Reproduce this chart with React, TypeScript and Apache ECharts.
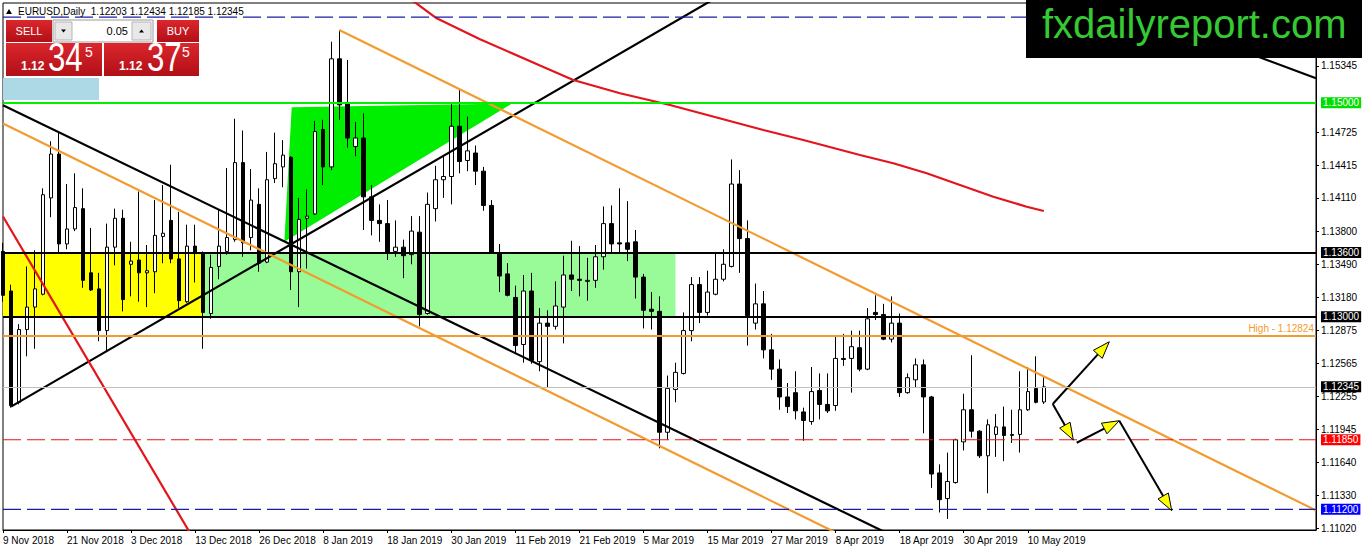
import React, { useEffect, useRef } from "react";
import * as echarts from "echarts";

// ---------- data ----------
const dates = [
  "9 Nov 2018","12 Nov 2018","13 Nov 2018","14 Nov 2018","15 Nov 2018","16 Nov 2018","19 Nov 2018","20 Nov 2018","21 Nov 2018","22 Nov 2018",
  "23 Nov 2018","26 Nov 2018","27 Nov 2018","28 Nov 2018","29 Nov 2018","30 Nov 2018","3 Dec 2018","4 Dec 2018","5 Dec 2018","6 Dec 2018",
  "7 Dec 2018","10 Dec 2018","11 Dec 2018","12 Dec 2018","13 Dec 2018","14 Dec 2018","17 Dec 2018","18 Dec 2018","19 Dec 2018","20 Dec 2018",
  "21 Dec 2018","24 Dec 2018","26 Dec 2018","27 Dec 2018","28 Dec 2018","31 Dec 2018","2 Jan 2019","3 Jan 2019","4 Jan 2019","7 Jan 2019",
  "8 Jan 2019","9 Jan 2019","10 Jan 2019","11 Jan 2019","14 Jan 2019","15 Jan 2019","16 Jan 2019","17 Jan 2019","18 Jan 2019","21 Jan 2019",
  "22 Jan 2019","23 Jan 2019","24 Jan 2019","25 Jan 2019","28 Jan 2019","29 Jan 2019","30 Jan 2019","31 Jan 2019","1 Feb 2019","4 Feb 2019",
  "5 Feb 2019","6 Feb 2019","7 Feb 2019","8 Feb 2019","11 Feb 2019","12 Feb 2019","13 Feb 2019","14 Feb 2019","15 Feb 2019","18 Feb 2019",
  "19 Feb 2019","20 Feb 2019","21 Feb 2019","22 Feb 2019","25 Feb 2019","26 Feb 2019","27 Feb 2019","28 Feb 2019","1 Mar 2019","4 Mar 2019",
  "5 Mar 2019","6 Mar 2019","7 Mar 2019","8 Mar 2019","11 Mar 2019","12 Mar 2019","13 Mar 2019","14 Mar 2019","15 Mar 2019","18 Mar 2019",
  "19 Mar 2019","20 Mar 2019","21 Mar 2019","22 Mar 2019","25 Mar 2019","26 Mar 2019","27 Mar 2019","28 Mar 2019","29 Mar 2019","1 Apr 2019",
  "2 Apr 2019","3 Apr 2019","4 Apr 2019","5 Apr 2019","8 Apr 2019","9 Apr 2019","10 Apr 2019","11 Apr 2019","12 Apr 2019","15 Apr 2019",
  "16 Apr 2019","17 Apr 2019","18 Apr 2019","19 Apr 2019","22 Apr 2019","23 Apr 2019","24 Apr 2019","25 Apr 2019","26 Apr 2019","29 Apr 2019",
  "30 Apr 2019","1 May 2019","2 May 2019","3 May 2019","6 May 2019","7 May 2019","8 May 2019","9 May 2019","10 May 2019","13 May 2019",
  "14 May 2019",
];

const opens = [
  1.1361,1.1324,1.1220,1.1288,1.1309,1.1321,1.1411,1.1452,1.1368,1.1382,
  1.1401,1.1341,1.1326,1.1287,1.1365,1.1392,1.1349,1.1353,1.1341,1.1342,
  1.1375,1.1390,1.1354,1.1314,1.1366,1.1359,1.1303,1.1347,1.1361,1.1372,
  1.1444,1.1374,1.1405,1.1351,1.1429,1.1440,1.1449,1.1342,1.1392,1.1396,
  1.1475,1.1440,1.1541,1.1499,1.1459,1.1467,1.1412,1.1390,1.1387,1.1361,
  1.1365,1.1358,1.1379,1.1303,1.1401,1.1428,1.1431,1.1478,1.1446,1.1453,
  1.1436,1.1404,1.1360,1.1340,1.1318,1.1274,1.1324,1.1258,1.1294,1.1291,
  1.1309,1.1339,1.1335,1.1333,1.1334,1.1356,1.1387,1.1369,1.1369,1.1370,
  1.1337,1.1307,1.1305,1.1192,1.1232,1.1247,1.1287,1.1330,1.1304,1.1321,
  1.1335,1.1347,1.1424,1.1373,1.1294,1.1312,1.1269,1.1251,1.1225,1.1229,
  1.1211,1.1202,1.1231,1.1218,1.1217,1.1261,1.1261,1.1271,1.1251,1.1304,
  1.1302,1.1279,1.1294,1.1229,1.1241,1.1255,1.1225,1.1154,1.1130,1.1145,
  1.1183,1.1213,1.1193,1.1170,1.1190,1.1197,1.1189,1.1190,1.1213,1.1233,
  1.12203,
];
const highs = [
  1.1369,1.1330,1.1293,1.1347,1.1362,1.1420,1.1464,1.1473,1.1424,1.1434,
  1.1420,1.1383,1.1341,1.1387,1.1401,1.1400,1.1370,1.1417,1.1367,1.1409,
  1.1423,1.1442,1.1398,1.1386,1.1386,1.1361,1.1358,1.1400,1.1439,1.1485,
  1.1474,1.1438,1.1420,1.1454,1.1472,1.1465,1.1450,1.1411,1.1419,1.1483,
  1.1484,1.1557,1.1568,1.1540,1.1482,1.1490,1.1423,1.1405,1.1409,1.1390,
  1.1372,1.1394,1.1394,1.1416,1.1441,1.1451,1.1499,1.1512,1.1487,1.1460,
  1.1440,1.1409,1.1368,1.1350,1.1329,1.1339,1.1341,1.1308,1.1306,1.1333,
  1.1357,1.1371,1.1366,1.1355,1.1367,1.1403,1.1404,1.1420,1.1408,1.1381,
  1.1340,1.1323,1.1319,1.1245,1.1257,1.1304,1.1337,1.1337,1.1343,1.1359,
  1.1363,1.1447,1.1437,1.1390,1.1331,1.1324,1.1284,1.1260,1.1238,1.1249,
  1.1215,1.1253,1.1247,1.1247,1.1281,1.1284,1.1287,1.1287,1.1308,1.1320,
  1.1312,1.1319,1.1303,1.1247,1.1261,1.1260,1.1226,1.1162,1.1173,1.1186,
  1.1228,1.1264,1.1194,1.1204,1.1209,1.1216,1.1213,1.1249,1.1253,1.1263,
  1.12434,
];
const lows = [
  1.1314,1.1215,1.1218,1.1263,1.1270,1.1320,1.1393,1.1359,1.1363,1.1380,
  1.1327,1.1324,1.1277,1.1268,1.1348,1.1305,1.1319,1.1314,1.1309,1.1322,
  1.1350,1.1350,1.1308,1.1313,1.1332,1.1270,1.1298,1.1335,1.1358,1.1370,
  1.1356,1.1362,1.1342,1.1350,1.1425,1.1421,1.1325,1.1309,1.1345,1.1395,
  1.1423,1.1437,1.1484,1.1458,1.1450,1.1381,1.1376,1.1370,1.1353,1.1356,
  1.1336,1.1349,1.1291,1.1302,1.1389,1.1411,1.1405,1.1434,1.1436,1.1423,
  1.1399,1.1359,1.1323,1.1319,1.1265,1.1257,1.1256,1.1249,1.1234,1.1288,
  1.1275,1.1324,1.1319,1.1315,1.1327,1.1344,1.1360,1.1360,1.1352,1.1317,
  1.1289,1.1288,1.1177,1.1185,1.1220,1.1246,1.1277,1.1294,1.1301,1.1320,
  1.1333,1.1346,1.1341,1.1273,1.1288,1.1261,1.1241,1.1213,1.1210,1.1204,
  1.1184,1.1199,1.1204,1.1210,1.1212,1.1254,1.1229,1.1249,1.1250,1.1297,
  1.1278,1.1276,1.1225,1.1228,1.1234,1.1191,1.1140,1.1117,1.1111,1.1144,
  1.1175,1.1187,1.1168,1.1135,1.1169,1.1165,1.1182,1.1173,1.1212,1.1219,
  1.12185,
];
const closes = [
  1.1320,1.1217,1.1288,1.1309,1.1326,1.1414,1.1452,1.1368,1.1382,1.1402,
  1.1334,1.1325,1.1287,1.1365,1.1392,1.1316,1.1352,1.1341,1.1343,1.1376,
  1.1378,1.1354,1.1315,1.1366,1.1359,1.1304,1.1346,1.1366,1.1374,1.1444,
  1.1369,1.1409,1.1350,1.1428,1.1443,1.1451,1.1342,1.1391,1.1394,1.1473,
  1.1440,1.1541,1.1498,1.1467,1.1467,1.1412,1.1390,1.1387,1.1360,1.1365,
  1.1357,1.1380,1.1302,1.1405,1.1428,1.1431,1.1478,1.1445,1.1455,1.1436,
  1.1404,1.1360,1.1338,1.1320,1.1273,1.1324,1.1259,1.1294,1.1291,1.1310,
  1.1339,1.1335,1.1334,1.1334,1.1356,1.1387,1.1368,1.1368,1.1363,1.1337,
  1.1306,1.1305,1.1192,1.1233,1.1248,1.1287,1.1330,1.1304,1.1323,1.1335,
  1.1349,1.1424,1.1373,1.1301,1.1312,1.1269,1.1251,1.1225,1.1216,1.1212,
  1.1203,1.1230,1.1218,1.1212,1.1261,1.1260,1.1272,1.1251,1.1298,1.1302,
  1.1279,1.1294,1.1229,1.1243,1.1255,1.1225,1.1153,1.1129,1.1146,1.1185,
  1.1213,1.1193,1.1170,1.1199,1.1197,1.1189,1.1190,1.1213,1.1230,1.1220,
  1.12345,
];

const futureSlots = 34; // empty shift space to the right of the last bar

// price-scale tick labels and the marked price levels
const priceTicks = [1.15345,1.14725,1.14415,1.1411,1.138,1.1349,1.1318,1.12875,1.12565,1.12255,1.11945,1.1164,1.1133,1.1102];
const levelTop = 1.158;
const level150 = 1.15;
const level136 = 1.136;
const level130 = 1.13;
const levelHigh = 1.12824;
const levelBid = 1.12345;
const level1185 = 1.1185;
const level112 = 1.112;

// drawn objects in [bar index, price]
const ascTrend = [[1, 1.1216], [88.6, 1.1596]];
const descTrend = [[0, 1.14977], [112.2, 1.10913]];
const topRightLine = [[137.8, 1.1596], [164, 1.15228]];
const channelTop = [[42, 1.1568], [164, 1.1119]];
const channelLow = [[0, 1.14806], [105.9, 1.10913]];
const redDiag = [[0, 1.13936], [23.88, 1.10913]];
const ma200 = [
  [51.05, 1.1596],[54.17, 1.15789],[59.58, 1.15593],[67.07, 1.15347],[71.23, 1.15212],[77.07, 1.15088],
  [83.31, 1.14979],[94.97, 1.14745],[99.96, 1.14651],[107.04, 1.14511],[111.2, 1.14434],[115.38, 1.1434],
  [119.53, 1.14231],[123.7, 1.14121],[127.87, 1.14028],[130, 1.13988],
];
const yellowZone = [0, 25, 1.13, 1.136];
const paleGreenZone = [25, 84, 1.13, 1.136];
const greenWedge = [[36.06, 1.14957], [63.58, 1.14993], [35.14, 1.13701]];
const arrows = [
  [131.12, 1.12184, 138.18, 1.12766],
  [131.12, 1.12184, 133.69, 1.11848],
  [134.11, 1.11822, 139.43, 1.12028],
  [139.43, 1.12028, 145.98, 1.11187],
];

// ---------- styles ----------
const ORANGE = "#f29b30";
const RED = "#e3141c";
const NAVY = "#1c1ca8";
const FONT = "Liberation Sans";

export default function App() {
  const ref = useRef<HTMLDivElement>(null);

  useEffect(() => {
    if (!ref.current) return;
    const chart = echarts.init(ref.current, null, { renderer: "svg" });

    const categories = [
      ...dates,
      ...Array.from({ length: futureSlots }, (_, i) => `+${i + 1}`),
    ];
    const lastSlot = categories.length - 1;
    const labelEvery = (index: number) => index % 8 === 0 && index < dates.length;

    const candles = opens.map((o, i) => [o, closes[i], lows[i], highs[i]]);

    const boxLabel = (bg: string) => ({
      show: true,
      position: "end",
      distance: 5,
      formatter: (p: any) => Number(p.value).toFixed(5),
      color: "#fff",
      opacity: 1,
      backgroundColor: bg,
      padding: [1, 2, 0, 2],
      fontSize: 10,
      fontFamily: FONT,
    });

    const redGrad = new echarts.graphic.LinearGradient(0, 0, 0, 1, [
      { offset: 0, color: "#dc262d" },
      { offset: 1, color: "#b10f17" },
    ]);

    const lineDefs = [
      { data: ascTrend, color: "#000", width: 2.2, dash: "solid" as any },
      { data: descTrend, color: "#000", width: 2.2, dash: "solid" as any },
      { data: topRightLine, color: "#000", width: 2.2, dash: "solid" as any },
      { data: channelTop, color: ORANGE, width: 2.2, dash: "solid" as any },
      { data: channelLow, color: ORANGE, width: 2.2, dash: "solid" as any },
      { data: redDiag, color: RED, width: 2.2, dash: "solid" as any },
      { data: ma200, color: RED, width: 2.2, dash: "solid" as any },
      { data: [[0, levelTop], [lastSlot, levelTop]], color: NAVY, width: 1.2, dash: [18, 6] },
      { data: [[0, level1185], [lastSlot, level1185]], color: RED, width: 1.2, dash: [18, 6] },
      { data: [[0, level112], [lastSlot, level112]], color: NAVY, width: 1.2, dash: [18, 6] },
    ];

    const zoneColors = ["#ffff00", "#98fb98"];

    const g = (el: any) => ({ z: 100, silent: true, ...el });
    const hidden = { color: "rgba(0,0,0,0)", width: 1, type: "solid" };

    const option: any = {
      animation: false,
      backgroundColor: "#ffffff",
      grid: {
        left: 3,
        right: 46,
        top: 3,
        bottom: 22,
        show: true,
        borderColor: "#000",
        borderWidth: 1,
        backgroundColor: "transparent",
      },
      xAxis: [
        {
          type: "category",
          data: categories,
          boundaryGap: false,
          axisLine: { show: true, onZero: false, lineStyle: { color: "#000", width: 1 } },
          axisTick: { show: true, interval: labelEvery, length: 3, lineStyle: { color: "#000" } },
          axisLabel: {
            interval: labelEvery,
            align: "left",
            margin: 5,
            color: "#000",
            fontSize: 10,
            fontFamily: FONT,
          },
          splitLine: { show: false },
        },
        { type: "value", min: 0, max: lastSlot, show: false },
      ],
      yAxis: {
        type: "value",
        position: "right",
        min: 1.110065,
        max: 1.159318,
        splitLine: { show: false },
        axisLine: { show: true, onZero: false, lineStyle: { color: "#000", width: 1 } },
        axisTick: { show: true, customValues: priceTicks, length: 3, lineStyle: { color: "#000" } },
        axisLabel: {
          customValues: priceTicks,
          formatter: (v: number) => v.toFixed(5),
          color: "#000",
          fontSize: 10,
          fontFamily: FONT,
          margin: 5,
        },
      },
      series: [
        {
          type: "custom",
          xAxisIndex: 1,
          yAxisIndex: 0,
          z: 1,
          silent: true,
          clip: true,
          data: [yellowZone, paleGreenZone],
          renderItem: (params: any, api: any) => {
            const a = api.coord([api.value(0), api.value(3)]);
            const b = api.coord([api.value(1), api.value(2)]);
            return {
              type: "rect",
              shape: { x: a[0], y: a[1], width: b[0] - a[0], height: b[1] - a[1] },
              style: { fill: zoneColors[params.dataIndex] },
            };
          },
        },
        {
          type: "custom",
          xAxisIndex: 1,
          yAxisIndex: 0,
          z: 1,
          silent: true,
          clip: true,
          data: greenWedge,
          renderItem: (params: any, api: any) => {
            if (params.dataIndex !== 0) return null;
            const pts = greenWedge.map((p) => api.coord(p));
            return { type: "polygon", shape: { points: pts }, style: { fill: "#00ee00" } };
          },
        },
        {
          type: "candlestick",
          xAxisIndex: 0,
          yAxisIndex: 0,
          z: 2,
          data: candles,
          barWidth: 4,
          silent: true,
          itemStyle: {
            color: "#ffffff",
            color0: "#000000",
            borderColor: "#000000",
            borderColor0: "#000000",
            borderColorDoji: "#000000",
            borderWidth: 1,
          },
          markLine: {
            silent: true,
            symbol: ["none", "none"],
            precision: 5,
            animation: false,
            data: [
              { yAxis: level150, lineStyle: { color: "#00ee00", width: 2, type: "solid" }, label: boxLabel("#00dd00") },
              { yAxis: level136, lineStyle: { color: "#000", width: 2, type: "solid" }, label: boxLabel("#000") },
              { yAxis: level130, lineStyle: { color: "#000", width: 2, type: "solid" }, label: boxLabel("#000") },
              {
                yAxis: levelHigh,
                lineStyle: { color: ORANGE, width: 2, type: "solid" },
                label: {
                  show: true,
                  position: "insideEndTop",
                  distance: 2,
                  formatter: (p: any) => "High - " + Number(p.value).toFixed(5),
                  color: ORANGE,
                  fontSize: 10,
                  fontFamily: FONT,
                },
              },
              { yAxis: levelBid, lineStyle: { color: "#c0c0c0", width: 1, type: "solid" }, label: boxLabel("#000") },
              { yAxis: level1185, lineStyle: hidden, label: boxLabel("#ff0000") },
              { yAxis: level112, lineStyle: hidden, label: boxLabel("#0000ff") },
            ],
          },
        },
        ...lineDefs.map((l) => ({
          type: "line",
          xAxisIndex: 1,
          yAxisIndex: 0,
          z: 3,
          data: l.data,
          symbol: "none",
          showSymbol: false,
          silent: true,
          clip: true,
          lineStyle: { color: l.color, width: l.width, type: l.dash },
        })),
        {
          type: "custom",
          xAxisIndex: 1,
          yAxisIndex: 0,
          z: 4,
          silent: true,
          clip: false,
          data: arrows,
          renderItem: (params: any, api: any) => {
            const s = api.coord([api.value(0), api.value(1)]);
            const t = api.coord([api.value(2), api.value(3)]);
            const dx = t[0] - s[0];
            const dy = t[1] - s[1];
            const len = Math.hypot(dx, dy) || 1;
            const ux = dx / len;
            const uy = dy / len;
            const L = 17;
            const W = 6;
            const bx = t[0] - ux * L;
            const by = t[1] - uy * L;
            const nx = -uy;
            const ny = ux;
            return {
              type: "group",
              children: [
                {
                  type: "line",
                  shape: { x1: s[0], y1: s[1], x2: bx, y2: by },
                  style: { stroke: "#000", lineWidth: 2 },
                },
                {
                  type: "polygon",
                  shape: {
                    points: [
                      [t[0], t[1]],
                      [bx + nx * W, by + ny * W],
                      [bx - nx * W, by - ny * W],
                    ],
                  },
                  style: { fill: "#ffff00", stroke: "#000", lineWidth: 1 },
                },
              ],
            };
          },
        },
      ],
      graphic: [
        // logo
        g({ type: "rect", shape: { x: 1026, y: 0, width: 336, height: 58 }, style: { fill: "#000" } }),
        g({
          type: "text",
          x: 1042,
          y: 24,
          style: {
            text: "fxdailyreport.com",
            fill: "#36c933",
            font: `40px "${FONT}"`,
            align: "left",
            verticalAlign: "middle",
          },
        }),
        // title
        g({ type: "polygon", shape: { points: [[6, 14], [12, 14], [9, 9]] }, style: { fill: "#000" } }),
        g({
          type: "text",
          x: 18,
          y: 11,
          style: {
            text: "EURUSD,Daily  1.12203 1.12434 1.12185 1.12345",
            fill: "#000",
            font: `10px "${FONT}"`,
            align: "left",
            verticalAlign: "middle",
          },
        }),
        // one-click trading panel
        g({ type: "rect", shape: { x: 6, y: 20, width: 46, height: 22 }, style: { fill: redGrad } }),
        g({ type: "text", x: 29, y: 31, style: { text: "SELL", fill: "#fff", font: `11px "${FONT}"`, align: "center", verticalAlign: "middle" } }),
        g({ type: "rect", shape: { x: 53, y: 20, width: 100, height: 22 }, style: { fill: "#fff", stroke: "#9a9a9a", lineWidth: 1 } }),
        g({ type: "rect", shape: { x: 55, y: 22, width: 17, height: 18 }, style: { fill: "#e8e8e8", stroke: "#b5b5b5", lineWidth: 1 } }),
        g({ type: "polygon", shape: { points: [[61, 29.5], [66, 29.5], [63.5, 32.5]] }, style: { fill: "#000" } }),
        g({ type: "text", x: 128, y: 31, style: { text: "0.05", fill: "#000", font: `11px "${FONT}"`, align: "right", verticalAlign: "middle" } }),
        g({ type: "rect", shape: { x: 132, y: 22, width: 19, height: 18 }, style: { fill: "#e8e8e8", stroke: "#b5b5b5", lineWidth: 1 } }),
        g({ type: "polygon", shape: { points: [[139, 32.5], [144, 32.5], [141.5, 29.5]] }, style: { fill: "#000" } }),
        g({ type: "rect", shape: { x: 157, y: 20, width: 42, height: 22 }, style: { fill: redGrad } }),
        g({ type: "text", x: 178, y: 31, style: { text: "BUY", fill: "#fff", font: `11px "${FONT}"`, align: "center", verticalAlign: "middle" } }),
        g({ type: "rect", shape: { x: 6, y: 43, width: 96, height: 33 }, style: { fill: redGrad } }),
        g({ type: "rect", shape: { x: 104, y: 43, width: 95, height: 33 }, style: { fill: redGrad } }),
        g({ type: "text", x: 21, y: 66, style: { text: "1.12", fill: "#fff", font: `bold 12px "${FONT}"`, align: "left", verticalAlign: "middle" } }),
        g({ type: "text", x: 48, y: 58, scaleX: 0.78, style: { text: "34", fill: "#fff", font: `40px "${FONT}"`, align: "left", verticalAlign: "middle" } }),
        g({ type: "text", x: 85, y: 52, style: { text: "5", fill: "#fff", font: `14px "${FONT}"`, align: "left", verticalAlign: "middle" } }),
        g({ type: "text", x: 119, y: 66, style: { text: "1.12", fill: "#fff", font: `bold 12px "${FONT}"`, align: "left", verticalAlign: "middle" } }),
        g({ type: "text", x: 147, y: 58, scaleX: 0.78, style: { text: "37", fill: "#fff", font: `40px "${FONT}"`, align: "left", verticalAlign: "middle" } }),
        g({ type: "text", x: 182, y: 52, style: { text: "5", fill: "#fff", font: `14px "${FONT}"`, align: "left", verticalAlign: "middle" } }),
        g({ type: "rect", shape: { x: 3, y: 78, width: 96, height: 22 }, style: { fill: "#add8e6" } }),
      ],
    };

    chart.setOption(option);
    return () => {
      chart.dispose();
    };
  }, []);

  return (
    <div
      ref={ref}
      style={{ position: "fixed", left: 0, top: 0, width: 1362, height: 552, background: "#fff" }}
    />
  );
}
